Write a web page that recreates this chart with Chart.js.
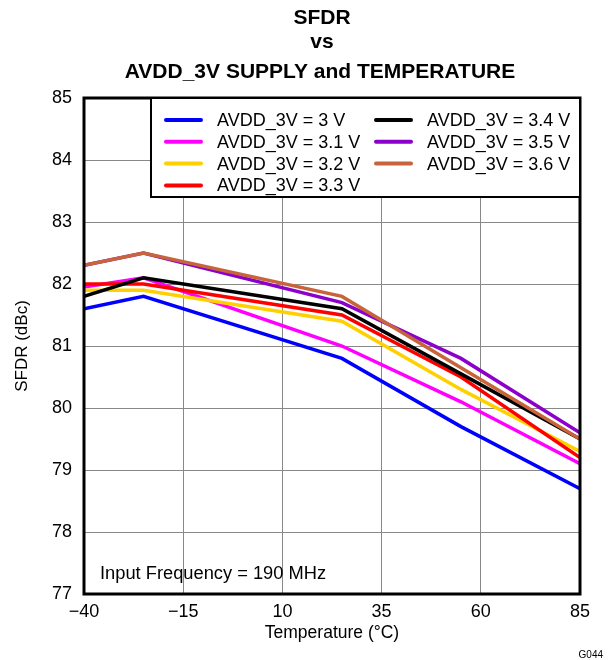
<!DOCTYPE html>
<html>
<head>
<meta charset="utf-8">
<script src="https://cdn.jsdelivr.net/npm/chart.js@4.4.1/dist/chart.umd.min.js"></script>
<style>
  html, body { margin: 0; padding: 0; background: #fff; }
  #wrap { width: 613px; height: 660px; position: relative; }
</style>
</head>
<body>
<div id="wrap"><canvas id="grafico"></canvas></div>
<script>
// Temperatura (°C) dos pontos medidos
const temperatures = [-40, -25, 25, 55, 85];

const seriesLabels = [
    'AVDD_3V = 3 V', 'AVDD_3V = 3.1 V', 'AVDD_3V = 3.2 V', 'AVDD_3V = 3.3 V',
    'AVDD_3V = 3.4 V', 'AVDD_3V = 3.5 V', 'AVDD_3V = 3.6 V'
];

const sfdr3v0 = [81.6, 81.8, 80.8, 79.7, 78.7];
const sfdr3v1 = [81.95, 82.1, 81.0, 80.1, 79.1];
const sfdr3v2 = [81.9, 81.9, 81.4, 80.3, 79.3];
const sfdr3v3 = [82.0, 82.0, 81.5, 80.5, 79.2];
const sfdr3v4 = [81.8, 82.1, 81.6, 80.55, 79.5];
const sfdr3v5 = [82.3, 82.5, 81.7, 80.8, 79.6];
const sfdr3v6 = [82.3, 82.5, 81.8, 80.65, 79.5];

const xTicks = [-40, -15, 10, 35, 60, 85];
const yTicks = [77, 78, 79, 80, 81, 82, 83, 84, 85];

const seriesValues = [sfdr3v0, sfdr3v1, sfdr3v2, sfdr3v3, sfdr3v4, sfdr3v5, sfdr3v6];
const colors = ['#0000ff', '#ff00ff', '#ffd000', '#ff0000', '#000000', '#8c00cc', '#c8643c'];

const FONT = 'Arial, "Liberation Sans", Helvetica, sans-serif';

// Títulos, moldura, legenda e textos extras
const extrasPlugin = {
    id: 'extras',
    afterDatasetsDraw(chart) {
        const { ctx, chartArea: a } = chart;
        ctx.save();
        ctx.strokeStyle = '#000';
        ctx.lineWidth = 3;
        ctx.strokeRect(a.left, a.top, a.right - a.left, a.bottom - a.top);
        ctx.restore();
    },
    afterDraw(chart) {
        const { ctx, chartArea: a } = chart;
        ctx.save();

        // título
        ctx.fillStyle = '#000';
        ctx.textAlign = 'center';
        ctx.textBaseline = 'middle';
        ctx.font = `bold 21px ${FONT}`;
        ctx.fillText('SFDR', 322, 18);
        ctx.fillText('vs', 322, 42);
        ctx.fillText('AVDD_3V SUPPLY and TEMPERATURE', 320, 72);

        // legenda
        const bx = 151, by = a.top, bw = a.right - bx, bh = 99;
        ctx.fillStyle = '#fff';
        ctx.fillRect(bx, by, bw, bh);
        ctx.strokeStyle = '#000';
        ctx.lineWidth = 2;
        ctx.strokeRect(bx, by, bw, bh);
        ctx.font = `18px ${FONT}`;
        ctx.textAlign = 'left';
        chart.data.datasets.forEach((ds, i) => {
            const col = i < 4 ? 0 : 1;
            const row = i < 4 ? i : i - 4;
            const x0 = col === 0 ? 166 : 376;
            const y = 120 + row * 21.8;
            ctx.strokeStyle = ds.borderColor;
            ctx.lineWidth = 4;
            ctx.lineCap = 'round';
            ctx.beginPath();
            ctx.moveTo(x0, y);
            ctx.lineTo(x0 + 35, y);
            ctx.stroke();
            ctx.fillStyle = '#000';
            ctx.fillText(ds.label, x0 + 51, y + 1);
        });

        ctx.font = `18.3px ${FONT}`;
        ctx.fillText('Input Frequency = 190 MHz', 100, 574);

        ctx.font = `10px ${FONT}`;
        ctx.textAlign = 'right';
        ctx.fillText('G044', 603, 655);
        ctx.restore();
    }
};

new Chart(document.getElementById('grafico'), {
    type: 'line',
    data: {
        labels: temperatures,
        datasets: seriesValues.map((vals, i) => ({
            label: seriesLabels[i],
            data: vals.map((v, j) => ({ x: temperatures[j], y: v })),
            borderColor: colors[i],
            backgroundColor: colors[i],
            borderWidth: 3.5,
            pointRadius: 0,
            tension: 0,
            fill: false,
            order: 6 - i
        }))
    },
    options: {
        responsive: true,
        maintainAspectRatio: false,
        animation: false,
        layout: { padding: { top: 98, right: 33, left: 0, bottom: 0 } },
        plugins: {
            legend: { display: false },
            title: { display: false },
            tooltip: { enabled: false }
        },
        scales: {
            x: {
                type: 'linear',
                min: -40,
                max: 85,
                afterBuildTicks: axis => { axis.ticks = xTicks.map(v => ({ value: v })); },
                afterFit: axis => { axis.height = 66; },
                grid: { color: '#888', lineWidth: 1, drawTicks: false },
                border: { display: false },
                ticks: {
                    color: '#000',
                    padding: 7,
                    maxRotation: 0,
                    font: { family: FONT, size: 18 },
                    callback: v => String(v).replace('-', '\u2212')
                },
                title: {
                    display: true,
                    text: 'Temperature (°C)',
                    color: '#000',
                    font: { family: FONT, size: 17.5 },
                    padding: { top: 0, bottom: 16 }
                }
            },
            y: {
                min: 77,
                max: 85,
                afterBuildTicks: axis => { axis.ticks = yTicks.map(v => ({ value: v })); },
                afterFit: axis => { axis.width = 84; },
                grid: { color: '#888', lineWidth: 1, drawTicks: false },
                border: { display: false },
                ticks: {
                    color: '#000',
                    padding: 12,
                    font: { family: FONT, size: 18 }
                },
                title: {
                    display: true,
                    text: 'SFDR (dBc)',
                    color: '#000',
                    font: { family: FONT, size: 17 },
                    padding: { top: 12, bottom: 0 }
                }
            }
        }
    },
    plugins: [extrasPlugin]
});
</script>
</body>
</html>
